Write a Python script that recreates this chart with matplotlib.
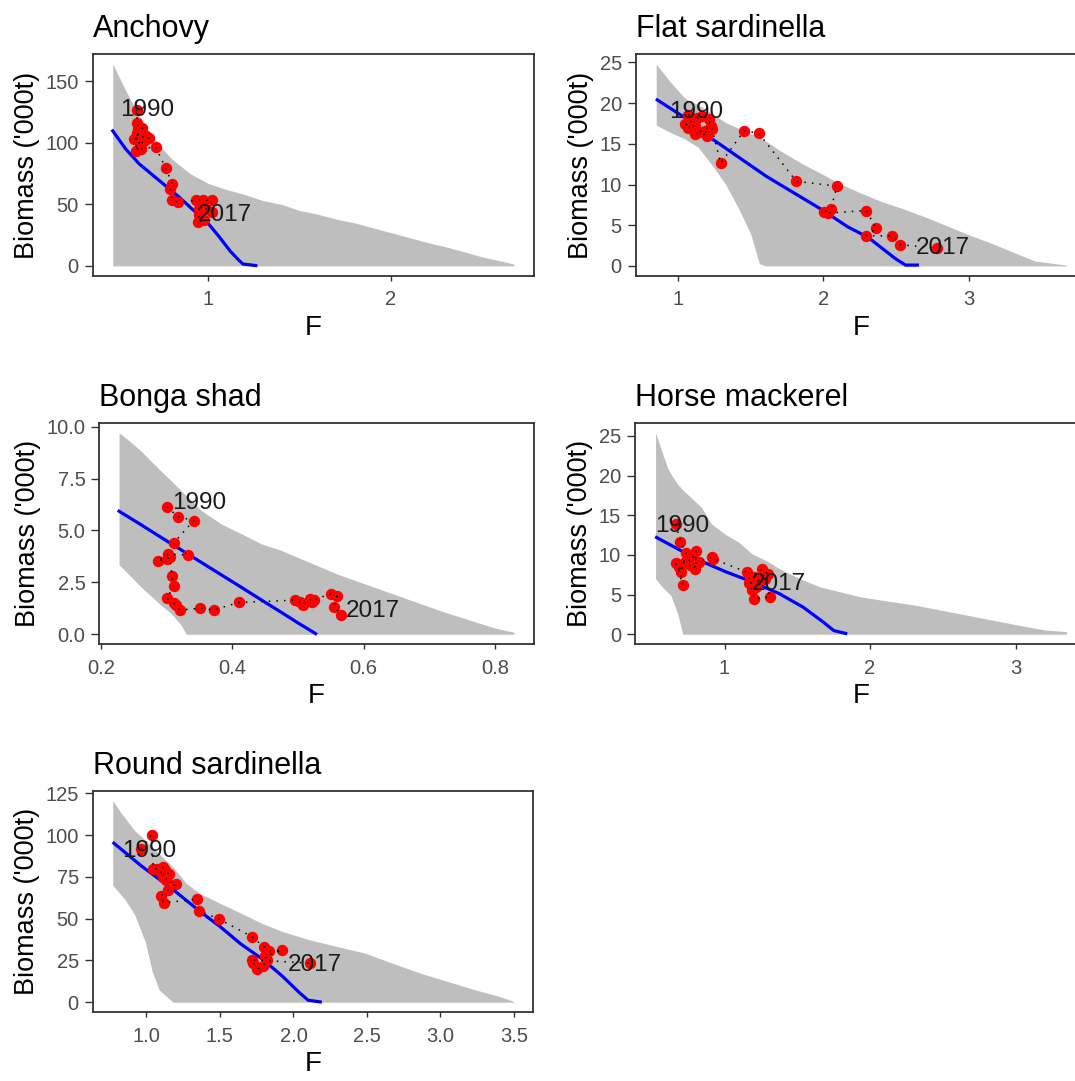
import matplotlib.pyplot as plt
import numpy as np

plt.rcParams['font.family'] = ['Liberation Sans', 'DejaVu Sans']

# Anchovy
anchovy_grid = [0.477, 0.52, 0.56, 0.60, 0.65, 0.70, 0.75, 0.80, 0.85, 0.90, 0.95, 1.00, 1.10, 1.20,
                1.30, 1.40, 1.50, 1.60, 1.70, 1.80, 1.90, 2.00, 2.10, 2.20, 2.30, 2.40, 2.50, 2.60, 2.673]
anchovy_upper = [164, 151, 139, 128, 115, 104, 95, 87, 81, 75, 71, 67, 62, 58,
                 53, 50, 45, 42, 38, 35, 31, 27, 23, 19, 15.5, 11.5, 7.3, 4, 1.5]
anchovy_lower = [0, 0, 0, 0, 0, 0, 0, 0, 0, 0, 0, 0, 0, 0,
                 0, 0, 0, 0, 0, 0, 0, 0, 0, 0, 0, 0, 0, 0, 0]
anchovy_line_f = [0.477, 0.548, 0.621, 0.694, 0.767, 0.84, 0.913, 0.985, 1.058, 1.12, 1.168, 1.19, 1.22, 1.26]
anchovy_line_b = [109.7, 95, 83, 74, 65, 56, 46, 37, 24, 12, 4.5, 1.5, 1.0, 0.3]
anchovy_f = [0.607, 0.612, 0.617, 0.639, 0.594, 0.621, 0.658, 0.676, 0.648, 0.630, 0.603, 0.61, 0.63, 0.712,
             0.767, 0.803, 0.79, 0.803, 0.836, 0.931, 0.973, 1.018, 1.02, 0.985, 0.949, 0.949, 0.945, 0.976]
anchovy_b = [127, 116.4, 111, 111.8, 103, 104.3, 105.6, 104.3, 101.6, 99, 93.5, 108, 95, 96.8,
             79.3, 66.7, 62.6, 53.2, 51.9, 53.2, 53.2, 53.2, 43.8, 46.5, 46.5, 41.1, 35.8, 37.1]

# Flat sardinella
flat_grid = [0.853, 0.95, 1.05, 1.14, 1.24, 1.33, 1.42, 1.50, 1.56, 1.60, 1.70, 1.85,
             2.00, 2.10, 2.25, 2.40, 2.55, 2.70, 2.85, 3.00, 3.15, 3.30, 3.45, 3.667]
flat_upper = [24.8, 22.6, 20.6, 19.8, 18.7, 17.6, 16.9, 16.3, 15.8, 15.4, 14.2, 12.6,
              11.2, 10.2, 9.0, 7.9, 7.0, 6.0, 4.9, 3.8, 2.8, 1.7, 0.6, 0.1]
flat_lower = [17.3, 16.4, 15.6, 14.6, 12.3, 10.0, 7.0, 4.0, 0.3, 0, 0, 0,
              0, 0, 0, 0, 0, 0, 0, 0, 0, 0, 0, 0]
flat_line_f = [0.86, 1.051, 1.237, 1.423, 1.609, 1.795, 1.981, 2.167, 2.307, 2.493, 2.563, 2.644]
flat_line_b = [20.4, 18.2, 15.6, 13.3, 11.0, 9.0, 7.0, 4.8, 3.5, 0.9, 0.1, 0.1]
flat_f = [1.074, 1.133, 1.098, 1.074, 1.121, 1.05, 1.167, 1.214, 1.226, 1.121, 1.149, 1.202, 1.19, 1.237,
          1.295, 1.455, 1.556, 1.814, 2.093, 2.051, 2.005, 2.028, 2.295, 2.36, 2.295, 2.47, 2.528, 2.777]
flat_b = [18.6, 18.2, 17.8, 17.0, 17.2, 17.4, 18.4, 18.0, 17.2, 16.2, 16.4, 16.0, 16.6, 16.8,
          12.6, 16.6, 16.3, 10.4, 9.8, 7.0, 6.6, 6.5, 6.8, 4.6, 3.7, 3.7, 2.6, 2.2]

# Bonga shad
bonga_grid = [0.2276, 0.245, 0.261, 0.276, 0.291, 0.307, 0.322, 0.330, 0.338, 0.353, 0.383, 0.414,
              0.444, 0.475, 0.50, 0.53, 0.56, 0.60, 0.64, 0.68, 0.72, 0.76, 0.80, 0.829]
bonga_upper = [9.71, 9.27, 8.83, 8.35, 7.88, 7.40, 6.92, 6.68, 6.44, 5.96, 5.32, 4.84,
               4.36, 4.04, 3.70, 3.30, 2.90, 2.45, 2.00, 1.55, 1.10, 0.70, 0.30, 0.10]
bonga_lower = [3.35, 2.80, 2.28, 1.85, 1.41, 1.00, 0.45, 0, 0, 0, 0, 0,
               0, 0, 0, 0, 0, 0, 0, 0, 0, 0, 0, 0]
bonga_line_f = [0.2276, 0.261, 0.291, 0.322, 0.353, 0.383, 0.414, 0.444, 0.475, 0.50, 0.527]
bonga_line_b = [5.93, 5.28, 4.68, 4.07, 3.46, 2.87, 2.26, 1.66, 1.05, 0.55, 0.03]
bonga_f = [0.3005, 0.3168, 0.3413, 0.3107, 0.3321, 0.3026, 0.2862, 0.3005, 0.305, 0.3082, 0.3107, 0.3005, 0.3107, 0.315,
           0.3209, 0.3515, 0.372, 0.4097, 0.4954, 0.503, 0.5085, 0.518, 0.5216, 0.525, 0.5503, 0.5597, 0.5556, 0.566]
bonga_b = [6.15, 5.67, 5.48, 4.39, 3.83, 3.85, 3.53, 3.64, 3.70, 2.80, 2.32, 1.73, 1.49, 1.40,
           1.17, 1.25, 1.17, 1.53, 1.64, 1.55, 1.40, 1.72, 1.56, 1.65, 1.96, 1.83, 1.32, 0.92]

# Horse mackerel
horse_grid = [0.526, 0.561, 0.608, 0.631, 0.678, 0.713, 0.748, 0.841, 0.911, 1.005, 1.098, 1.191, 1.285,
              1.378, 1.518, 1.658, 1.798, 1.938, 2.078, 2.31, 2.545, 2.778, 3.012, 3.198, 3.35]
horse_upper = [25.4, 23.5, 21.0, 20.2, 18.9, 18.2, 17.6, 16.0, 13.9, 12.6, 11.6, 10.1, 9.3,
               8.25, 7.0, 5.96, 5.33, 4.7, 4.3, 3.67, 2.83, 2.0, 1.17, 0.54, 0.33]
horse_lower = [7.0, 6.2, 5.3, 4.9, 2.6, 0, 0, 0, 0, 0, 0, 0, 0,
               0, 0, 0, 0, 0, 0, 0, 0, 0, 0, 0, 0]
horse_line_f = [0.533, 0.725, 0.841, 1.005, 1.191, 1.378, 1.541, 1.681, 1.751, 1.833]
horse_line_b = [12.2, 10.3, 9.2, 7.9, 6.6, 5.1, 3.4, 1.5, 0.46, 0.1]
horse_f = [0.666, 0.697, 0.736, 0.701, 0.666, 0.713, 0.69, 0.725, 0.748, 0.771, 0.806, 0.795, 0.76, 0.823,
           0.911, 0.923, 1.152, 1.173, 1.261, 1.296, 1.20, 1.238, 1.168, 1.191, 1.203, 1.313, 1.28, 1.215]
horse_b = [13.9, 11.67, 10.2, 7.83, 8.96, 6.25, 8.5, 9.1, 9.5, 9.1, 10.5, 8.25, 8.7, 9.1,
           9.7, 9.5, 7.83, 7.0, 8.25, 7.6, 7.2, 6.8, 6.4, 5.54, 4.5, 4.7, 7.0, 5.96]

# Round sardinella
round_grid = [0.771, 0.83, 0.853, 0.90, 0.923, 0.993, 1.04, 1.086, 1.18, 1.273, 1.366, 1.506,
              1.646, 1.786, 1.926, 2.112, 2.30, 2.486, 2.672, 2.859, 3.045, 3.232, 3.395, 3.495]
round_upper = [120.6, 113, 110.5, 105, 102.5, 97, 92.5, 88.9, 81, 71, 65, 59,
               53.2, 47.2, 42.3, 37.3, 33.3, 29.4, 23.4, 17.5, 12.5, 7.5, 3.6, 0.6]
round_lower = [70.0, 64.0, 61.6, 55.3, 51.8, 36.0, 18.3, 7.5, 0, 0, 0, 0,
               0, 0, 0, 0, 0, 0, 0, 0, 0, 0, 0, 0]
round_line_f = [0.779, 0.964, 1.189, 1.369, 1.505, 1.64, 1.786, 1.926, 2.042, 2.10, 2.182]
round_line_b = [95.2, 81.7, 66.9, 54, 45, 35, 26, 15.5, 5.6, 1.2, 0.2]
round_f = [0.964, 1.035, 1.047, 1.075, 1.11, 1.128, 1.11, 1.10, 1.156, 1.13, 1.203, 1.145, 1.098, 1.117,
           1.347, 1.361, 1.494, 1.716, 1.798, 1.832, 1.921, 1.809, 1.821, 1.79, 1.751, 1.727, 1.716, 2.112]
round_b = [91.7, 100.2, 80, 80, 81, 79, 75, 78, 77, 73, 71, 67, 63.7, 59.5,
           61.7, 54.6, 49.8, 39.3, 33.3, 30.4, 31, 27.4, 25.4, 21.4, 19.8, 23.4, 25.4, 23.4]

first_year, last_year = "1990", "2017"

W, H = 1075, 1081
fig = plt.figure(figsize=(W / 100, H / 100), dpi=100)
fig.patch.set_facecolor('white')


def add_panel(left, top, right, bottom):
    return fig.add_axes([left / W, 1 - bottom / H, (right - left) / W, (bottom - top) / H])


def expand(vals, frac=0.05):
    lo, hi = min(vals), max(vals)
    pad = (hi - lo) * frac
    return lo - pad, hi + pad


def draw(ax, title, grid, upper, lower, line_f, line_b, f, b,
         xticks, xlabels, yticks, ylabels, off_first, off_last):
    ax.fill_between(grid, lower, upper, color='#BEBEBE', lw=0, zorder=1)
    ax.plot(line_f, line_b, color='#0000FF', lw=2.3, zorder=2)
    ax.plot(f, b, 'o', color='#FF0000', ms=8.2, mec='none', zorder=3)
    ax.plot(f, b, color='black', lw=1.1, ls=(0, (1, 4)), zorder=4)
    ax.annotate(first_year, (f[0], b[0]), xytext=off_first, textcoords='offset pixels',
                ha='center', va='center', fontsize=17.5, color='#1A1A1A', zorder=5)
    ax.annotate(last_year, (f[-1], b[-1]), xytext=off_last, textcoords='offset pixels',
                ha='center', va='center', fontsize=17.5, color='#1A1A1A', zorder=5)

    ax.set_xlim(expand(list(grid) + list(line_f) + list(f)))
    ax.set_ylim(expand(list(upper) + list(lower) + list(line_b) + list(b)))
    ax.set_xticks(xticks)
    ax.set_xticklabels(xlabels)
    ax.set_yticks(yticks)
    ax.set_yticklabels(ylabels)

    for sp in ax.spines.values():
        sp.set_color('#333333')
        sp.set_linewidth(1.3)
    ax.tick_params(axis='x', length=3.8, width=1.0, color='#333333', pad=6.5,
                   labelsize=14.5, labelcolor='#4D4D4D')
    ax.tick_params(axis='y', length=5.5, width=1.0, color='#333333', pad=4.5,
                   labelsize=14.5, labelcolor='#4D4D4D')

    ax.set_title(title, loc='left', fontsize=22, pad=12)
    ax.set_xlabel('F', fontsize=20, labelpad=4)
    ax.set_ylabel("Biomass ('000t)", fontsize=19.5, labelpad=4)


ax1 = add_panel(92.7, 54, 534, 276)
draw(ax1, 'Anchovy', anchovy_grid, anchovy_upper, anchovy_lower, anchovy_line_f, anchovy_line_b,
     anchovy_f, anchovy_b, [1, 2], ['1', '2'], [0, 50, 100, 150], ['0', '50', '100', '150'],
     (11, 0), (21, 5))

ax2 = add_panel(635.7, 54, 1087, 276)
draw(ax2, 'Flat sardinella', flat_grid, flat_upper, flat_lower, flat_line_f, flat_line_b,
     flat_f, flat_b, [1, 2, 3], ['1', '2', '3'], [0, 5, 10, 15, 20, 25],
     ['0', '5', '10', '15', '20', '25'], (8, 3), (6, 0))

ax3 = add_panel(99.3, 422.7, 533.6, 644.3)
draw(ax3, 'Bonga shad', bonga_grid, bonga_upper, bonga_lower, bonga_line_f, bonga_line_b,
     bonga_f, bonga_b, [0.2, 0.4, 0.6, 0.8], ['0.2', '0.4', '0.6', '0.8'],
     [0, 2.5, 5, 7.5, 10], ['0.0', '2.5', '5.0', '7.5', '10.0'], (32, 4), (32, 4))

ax4 = add_panel(635, 422.7, 1087, 644.3)
draw(ax4, 'Horse mackerel', horse_grid, horse_upper, horse_lower, horse_line_f, horse_line_b,
     horse_f, horse_b, [1, 2, 3], ['1', '2', '3'], [0, 5, 10, 15, 20, 25],
     ['0', '5', '10', '15', '20', '25'], (6, -2), (23, 3))

ax5 = add_panel(92.7, 790.7, 533.3, 1012.3)
draw(ax5, 'Round sardinella', round_grid, round_upper, round_lower, round_line_f, round_line_b,
     round_f, round_b, [1.0, 1.5, 2.0, 2.5, 3.0, 3.5], ['1.0', '1.5', '2.0', '2.5', '3.0', '3.5'],
     [0, 25, 50, 75, 100, 125], ['0', '25', '50', '75', '100', '125'], (8, -2), (5, -2))

fig.savefig('out.png', dpi=100)
